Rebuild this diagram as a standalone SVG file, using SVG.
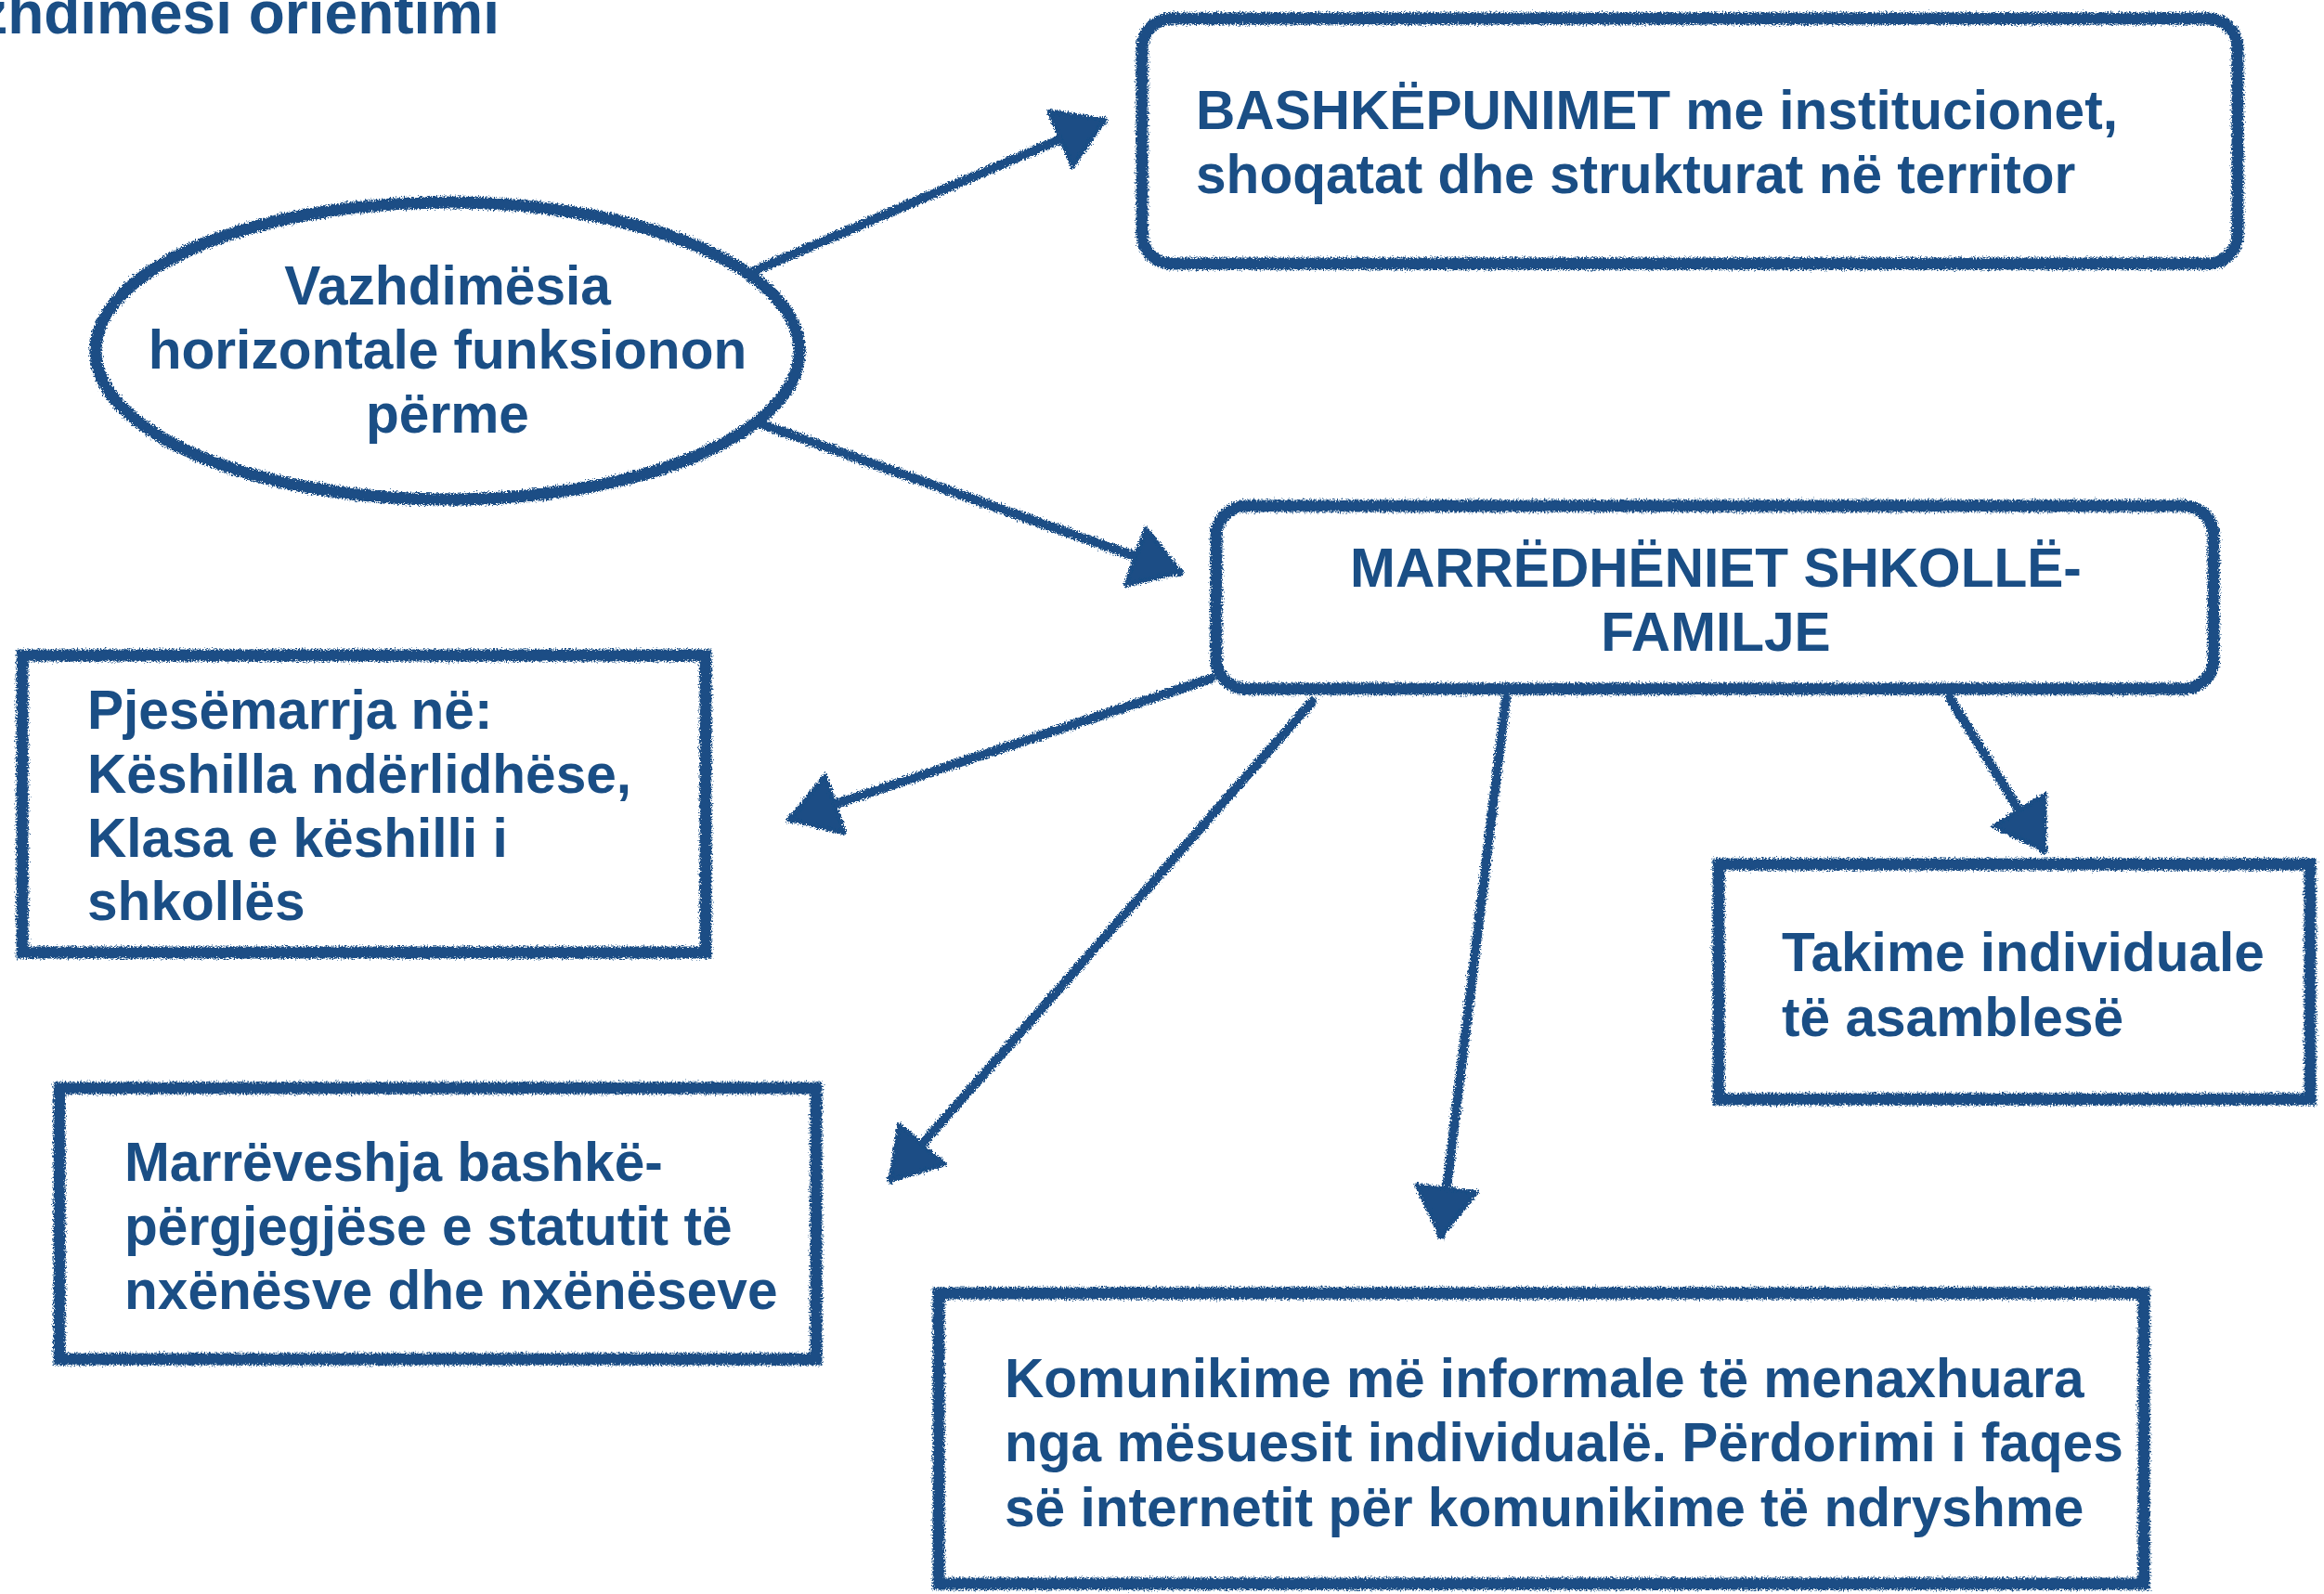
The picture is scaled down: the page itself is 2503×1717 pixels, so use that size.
<svg xmlns="http://www.w3.org/2000/svg" width="2503" height="1717" viewBox="0 0 2503 1717">
  <defs>
    <style>
      .t { font-family: "Liberation Sans", Arial, Helvetica, sans-serif; font-weight: bold; font-size: 58.6px; fill: #1a4e85; }
      .title { font-size: 64px; }
      .shape { fill: #ffffff; stroke: #1a4e85; stroke-width: 13; }
      .conn { fill: none; stroke: #1a4e85; stroke-width: 10; stroke-linecap: round; }
    </style>
    <filter id="chalk" x="-10%" y="-10%" width="120%" height="120%">
      <feTurbulence type="fractalNoise" baseFrequency="0.6" numOctaves="2" seed="7" result="noise"/>
      <feDisplacementMap in="SourceGraphic" in2="noise" scale="8" xChannelSelector="R" yChannelSelector="G"/>
    </filter>
    <marker id="head" markerUnits="userSpaceOnUse" viewBox="0 0 56 70" markerWidth="56" markerHeight="70" refX="52" refY="35" orient="auto">
      <path d="M2,2 L54,35 L2,68 Z" fill="#1a4e85" stroke="#1a4e85" stroke-width="4" stroke-linejoin="round"/>
    </marker>
  </defs>
  <rect x="0" y="0" width="2503" height="1717" fill="#ffffff"/>

  <text class="t title" x="538" y="36" text-anchor="end">zhdimësi orientimi</text>

  <g id="connectors" filter="url(#chalk)">
    <line class="conn" x1="812" y1="292" x2="1188" y2="130" marker-end="url(#head)"/>
    <line class="conn" x1="820" y1="457" x2="1270" y2="616" marker-end="url(#head)"/>
    <line class="conn" x1="1304" y1="731" x2="852" y2="882" marker-end="url(#head)"/>
    <line class="conn" x1="1413" y1="756" x2="960" y2="1270" marker-end="url(#head)"/>
    <line class="conn" x1="1622" y1="752" x2="1552" y2="1330" marker-end="url(#head)"/>
    <line class="conn" x1="2100" y1="752" x2="2201" y2="915" marker-end="url(#head)"/>
  </g>

  <g id="node-vazhdimesia">
    <ellipse class="shape" cx="482" cy="378" rx="379" ry="160" filter="url(#chalk)"/>
    <text class="t" x="482" y="328" text-anchor="middle">Vazhdimësia</text>
    <text class="t" x="482" y="397" text-anchor="middle">horizontale funksionon</text>
    <text class="t" x="482" y="466" text-anchor="middle">përme</text>
  </g>

  <g id="node-bashkepunimet">
    <rect class="shape" x="1230" y="20" width="1180" height="264" rx="32" filter="url(#chalk)"/>
    <text class="t" x="1288" y="139">BASHKËPUNIMET me institucionet,</text>
    <text class="t" x="1288" y="208">shoqatat dhe strukturat në territor</text>
  </g>

  <g id="node-marredheniet">
    <rect class="shape" x="1310" y="545" width="1074" height="197" rx="32" filter="url(#chalk)"/>
    <text class="t" x="1848" y="632" text-anchor="middle">MARRËDHËNIET SHKOLLË-</text>
    <text class="t" x="1848" y="701" text-anchor="middle">FAMILJE</text>
  </g>

  <g id="node-pjesemarrja">
    <rect class="shape" x="24" y="706" width="736" height="320" filter="url(#chalk)"/>
    <text class="t" x="94" y="785">Pjesëmarrja në:</text>
    <text class="t" x="94" y="854">Këshilla ndërlidhëse,</text>
    <text class="t" x="94" y="923">Klasa e këshilli i</text>
    <text class="t" x="94" y="991">shkollës</text>
  </g>

  <g id="node-takime">
    <rect class="shape" x="1851" y="931" width="637" height="253" filter="url(#chalk)"/>
    <text class="t" x="1919" y="1046">Takime individuale</text>
    <text class="t" x="1919" y="1116">të asamblesë</text>
  </g>

  <g id="node-marreveshja">
    <rect class="shape" x="64" y="1172" width="815" height="292" filter="url(#chalk)"/>
    <text class="t" x="134" y="1272">Marrëveshja bashkë-</text>
    <text class="t" x="134" y="1341">përgjegjëse e statutit të</text>
    <text class="t" x="134" y="1410">nxënësve dhe nxënëseve</text>
  </g>

  <g id="node-komunikime">
    <rect class="shape" x="1011" y="1393" width="1298" height="313" filter="url(#chalk)"/>
    <text class="t" x="1082" y="1505">Komunikime më informale të menaxhuara</text>
    <text class="t" x="1082" y="1574">nga mësuesit individualë. Përdorimi i faqes</text>
    <text class="t" x="1082" y="1644">së internetit për komunikime të ndryshme</text>
  </g>
</svg>
